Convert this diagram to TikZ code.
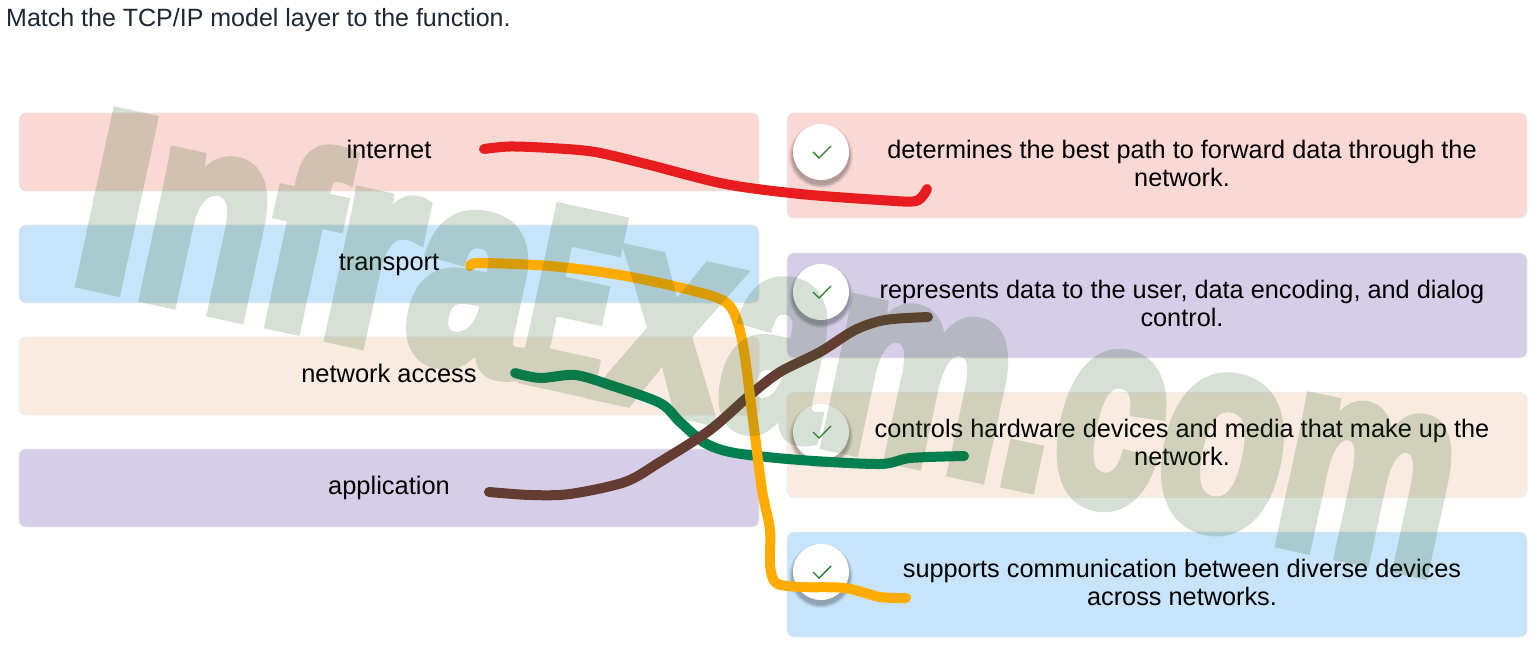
\documentclass[tikz,border=0pt]{standalone}
\usepackage{fontspec}
\setmainfont{Liberation Sans}
\newfontfamily\wmfont[BoldFeatures={FakeBold=5}]{Liberation Sans}
\definecolor{cpink}{RGB}{250,216,212}
\definecolor{cblue}{RGB}{200,228,250}
\definecolor{cpeach}{RGB}{249,235,224}
\definecolor{cpurple}{RGB}{214,206,232}
\definecolor{cred}{RGB}{232,28,30}
\definecolor{cyel}{RGB}{255,171,0}
\definecolor{cgrn}{RGB}{0,128,80}
\definecolor{cbrn}{RGB}{100,60,50}
\definecolor{cwm}{RGB}{50,100,40}
\definecolor{ccheck}{RGB}{40,130,40}
\definecolor{ctitle}{RGB}{30,40,50}
\tikzset{
  x=1pt,y=-1pt,
  leftbox/.style={draw=black!8,line width=.7pt,rounded corners=7pt,minimum width=740pt,minimum height=78pt,inner sep=0pt},
  rightbox/.style={draw=black!8,line width=.7pt,rounded corners=7pt,minimum width=740pt,minimum height=105pt,inner sep=0pt},
  lefttext/.style={anchor=base,inner sep=0pt,font=\fontsize{25.45}{28}\selectfont,text=black},
  righttext/.style={inner sep=0pt,align=center,font=\fontsize{25.3}{28}\selectfont,text=black},
  chk/.style={circle,fill=white,minimum size=56pt,inner sep=0pt},
  tick/.style={draw=ccheck,line width=1.4pt},
  scribble/.style={line width=10pt,line cap=round,line join=round},
  wmletter/.style={anchor=base west,inner sep=0pt,text=cwm,font=\wmfont\bfseries\fontsize{251}{251}\selectfont},
}
\newcommand{\wmput}[4]{% offset along baseline, xscale, yscale, letter
  \node[wmletter,rotate=-12.2,xscale=#2,yscale=#3] at ($(wmorigin)+(#1*0.9774,#1*0.2113)$) {#4};}
\usetikzlibrary{calc}
\begin{document}
\begin{tikzpicture}
\useasboundingbox (0,0) rectangle (1532,652);
\fill[white] (0,0) rectangle (1532,652);
\node[anchor=base west,inner sep=0pt,text=ctitle,font=\fontsize{25}{28}\selectfont] (title) at (6,26.5) {Match the TCP/IP model layer to the function.};
% left boxes
\node[leftbox,fill=cpink] (L1) at (389,152) {};
\node[leftbox,fill=cblue] (L2) at (389,264) {};
\node[leftbox,fill=cpeach] (L3) at (389,376) {};
\node[leftbox,fill=cpurple] (L4) at (389,488) {};
\node[lefttext] (tL1) at (389,158.5) {internet};
\node[lefttext] (tL2) at (389,270.5) {transport};
\node[lefttext] (tL3) at (389,382.5) {network access};
\node[lefttext] (tL4) at (389,494) {application};
% right boxes
\node[rightbox,fill=cpink] (R1) at (1157,165.5) {};
\node[rightbox,fill=cpurple] (R2) at (1157,305.5) {};
\node[rightbox,fill=cpeach] (R3) at (1157,445) {};
\node[rightbox,fill=cblue] (R4) at (1157,584.5) {};
\node[righttext] (tR1) at (1182,163) {determines the best path to forward data through the\\network.};
\node[righttext] (tR2) at (1182,303) {represents data to the user, data encoding, and dialog\\control.};
\node[righttext] (tR3) at (1182,442) {controls hardware devices and media that make up the\\network.};
\node[righttext] (tR4) at (1182,582) {supports communication between diverse devices\\across networks.};
% check circles
\foreach \n/\yy in {1/152,2/292,3/432,4/572}{
  \foreach \g/\o in {4/.06,3/.07,2/.08,1/.1}{
    \fill[black,opacity=\o] (821,\yy+4) circle[radius=28+\g];
  }
  \node[chk] (C\n) at (821,\yy) {};
  \draw[tick] (813,\yy) -- (819,\yy+6) -- (831,\yy-6);
}
% scribbles
\coordinate (a1) at (484,149);
\coordinate (b1) at (927,189);
\coordinate (a2) at (470,266);
\coordinate (b2) at (906,598);
\coordinate (a3) at (515,373);
\coordinate (b3) at (964,456);
\coordinate (a4) at (489,492);
\coordinate (b4) at (928,317);
\draw[scribble,cred] plot[smooth,tension=.5] coordinates {(a1) (510,146.5) (550,148) (595,152) (650,165) (725,184) (800,194) (880,200) (916,201) (b1)};
\draw[scribble,cgrn] plot[smooth,tension=.5] coordinates {(a3) (540,378) (575,375) (610,385) (660,403) (680,422) (705,443) (735,453) (800,460) (880,464) (910,458) (b3)};
\draw[scribble,cbrn] plot[smooth,tension=.5] coordinates {(a4) (530,495) (570,494) (625,482) (660,462) (710,430) (750,395) (780,372) (820,352) (855,330) (885,320) (b4)};
\draw[scribble,cyel] plot[smooth,tension=.5] coordinates {(a2) (480,263) (550,266) (620,275) (690,290) (728,304) (742,340) (753,420) (762,490) (770,530) (770,565) (776,583) (800,587) (845,588) (880,597) (b2)};
% watermark
\coordinate (wmorigin) at (66,279);
\begin{scope}[transparency group,opacity=.2]
\wmput{0}{.95}{1}{I}
\wmput{66}{.81}{1.1}{n}
\wmput{190}{.78}{1}{f}
\wmput{255}{.87}{1.1}{r}
\wmput{340}{.85}{1.1}{a}
\wmput{458}{.50}{1}{E}
\wmput{542}{.85}{1.1}{x}
\wmput{660}{.74}{1.1}{a}
\wmput{763}{.83}{1.1}{m}
\wmput{949}{.72}{1}{.}
\wmput{999}{.76}{1.1}{c}
\wmput{1105}{.81}{1.1}{o}
\wmput{1229}{.77}{1.1}{m}
\end{scope}
\end{tikzpicture}
\end{document}
